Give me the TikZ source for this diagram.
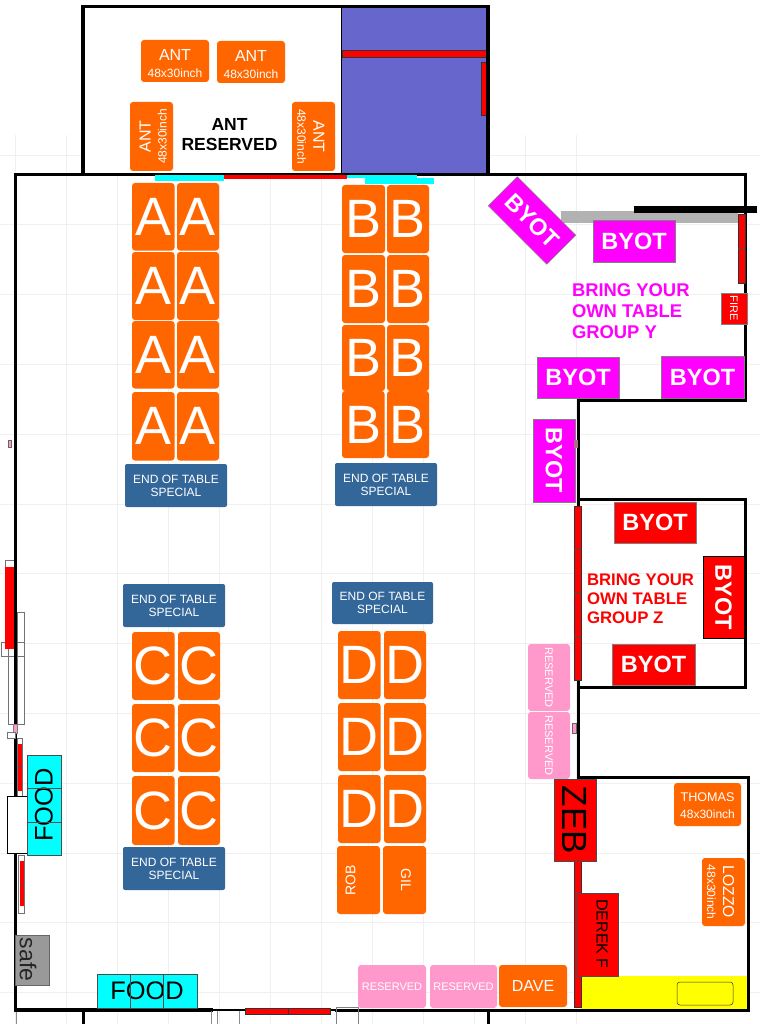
\documentclass[tikz,border=0pt]{standalone}
\usepackage{fontspec}
\setmainfont{Liberation Sans}
\definecolor{tblorange}{HTML}{FF6600}
\definecolor{tblblue}{HTML}{336699}
\definecolor{tblpink}{HTML}{FF99CC}
\definecolor{roomblue}{HTML}{6666CC}
\definecolor{gridgray}{HTML}{F0F0F0}
\definecolor{byotmag}{HTML}{FF00FF}
\definecolor{purecyan}{HTML}{00FFFF}
\definecolor{pureyellow}{HTML}{FFFF00}
\definecolor{purered}{HTML}{FF0000}
\newcommand\fz[2]{\fontsize{#1}{#2}\selectfont}
% horizontal box: style, name, x0,y0,x1,y1, text
\newcommand\hb[7]{\node[#1,minimum width=#5pt-#3pt,minimum height=#6pt-#4pt] (#2) at ({(#3+#5)/2},{-(#4+#6)/2}) {#7};}
% rotated box: style, name, x0,y0,x1,y1, angle, text
\newcommand\vb[8]{\node[#1,rotate=#7,minimum width=#6pt-#4pt,minimum height=#5pt-#3pt] (#2) at ({(#3+#5)/2},{-(#4+#6)/2}) {#8};}
\tikzset{
  x=1pt,y=1pt,
  box/.style={inner sep=0pt,outer sep=0pt,align=center,font=\fz{12}{13}},
  tbl/.style={box,fill=tblorange,rounded corners=3pt,text=white},
  big/.style={tbl,font=\fz{54}{54}},
  endtbl/.style={box,fill=tblblue,rounded corners=2pt,text=white,font=\fz{12}{13}},
  pinktbl/.style={box,fill=tblpink,rounded corners=3pt,text=white,font=\fz{11}{12}},
  byotm/.style={box,fill=byotmag,draw=gray,line width=.6pt,text=white,font=\bfseries\fz{23.5}{24}},
  byotr/.style={box,fill=purered,draw=gray,line width=.6pt,text=white,font=\bfseries\fz{23.5}{24}},
  redbar/.style={fill=purered,draw=black!80,line width=.5pt},
  cyanbox/.style={box,fill=purecyan,draw=black!70,line width=.5pt},
  wall/.style={draw=black,line width=3pt,line cap=rect,line join=miter},
  outline/.style={fill=white,draw=black!55,line width=.6pt},
}
\newcommand\inch{\fz{12}{17}48x30inch}
\begin{document}
\begin{tikzpicture}
\useasboundingbox (0,0) rectangle (760,-1024);
\fill[white] (0,0) rectangle (760,-1024);
% grid
\foreach \k in {0,...,11} \draw[gridgray,line width=.7pt] ({15.6+51*\k},-135) -- ({15.6+51*\k},-1024);
\foreach \k in {0,...,12} \draw[gridgray,line width=.7pt] (0,{-155-69.8*\k}) -- (760,{-155-69.8*\k});
% upper room
\fill[white] (83,-6) rectangle (488,-174);
\fill[roomblue] (342,-8) rectangle (487,-174);
\draw[redbar] (342,-50) rectangle (488,-57);
\draw[redbar] (481,-62) rectangle (488,-115);
\draw[wall,line width=3.5pt] (83,-174) -- (83,-6.5) -- (488,-6.5) -- (488,-174);
\draw[black,line width=.6pt] (341.5,-8) -- (341.5,-174);
% main walls
\draw[wall] (15.5,-1010) -- (15.5,-174.5) -- (745,-174.5) -- (745,-400) -- (578,-400) -- (578,-777) -- (748,-777) -- (748,-1010) -- (336,-1010);
\draw[wall] (578,-499) -- (745,-499) -- (745,-687) -- (578,-687);
\draw[wall,line width=3.5pt] (15.5,-1010) -- (211,-1010);
\draw[black,line width=2pt] (211,-1010) -- (336,-1010);
\draw[wall,line cap=butt] (83,-1010) -- (83,-1024);
\draw[wall,line cap=butt] (488,-1010) -- (488,-1024);
\draw[black!45,line width=.6pt] (16,-1012) -- (16,-1024) (211,-1011) -- (211,-1024) (217,-1011) -- (217,-1024) (239,-1011) -- (239,-1024);
\draw[black!50,line width=.6pt] (336,-1024) -- (336,-1007) -- (358,-1007) -- (358,-1024);
% doors on top wall
\fill[purecyan] (155,-175) rectangle (224,-181);
\fill[purered] (224,-175) rectangle (347,-179);
\fill[purecyan] (347,-175) rectangle (417,-178);
\fill[purecyan] (365,-178) rectangle (434,-184);
% ANT tables
\hb{tbl}{ant1}{141}{40}{209}{82}{\fz{16}{17}\rule{0pt}{15.5pt}ANT\\[4pt]\inch}
\hb{tbl}{ant2}{217}{41}{285}{83}{\fz{16}{17}\rule{0pt}{15.5pt}ANT\\[4pt]\inch}
\vb{tbl}{ant3}{130}{102}{173}{171}{90}{\fz{16}{17}\rule{0pt}{14.5pt}ANT\\[3pt]\inch}
\vb{tbl}{ant4}{292}{102}{335}{171}{-90}{\fz{16}{17}\rule{0pt}{16.5pt}ANT\\[3pt]\inch}
\node[box,font=\bfseries\fz{17.5}{20}] (antres) at (229.5,-135) {ANT\\RESERVED};
% A
\hb{big}{a1}{132}{183}{174.5}{250.5}{A}\hb{big}{a2}{177}{183}{219}{250.5}{A}
\hb{big}{a3}{132}{252}{174.5}{320}{A}\hb{big}{a4}{177}{252}{219}{320}{A}
\hb{big}{a5}{132}{321}{174.5}{388.5}{A}\hb{big}{a6}{177}{321}{219}{388.5}{A}
\hb{big}{a7}{132}{392}{174.5}{460.5}{A}\hb{big}{a8}{177}{392}{219}{460.5}{A}
% B
\hb{big}{b1}{342}{185}{385}{253}{B}\hb{big}{b2}{387}{185}{429}{253}{B}
\hb{big}{b3}{342}{255}{385}{323}{B}\hb{big}{b4}{387}{255}{429}{323}{B}
\hb{big}{b5}{342}{325}{385}{391}{B}\hb{big}{b6}{387}{325}{429}{391}{B}
\hb{big}{b7}{342}{391}{384.5}{458}{B}\hb{big}{b8}{387}{391}{429}{458}{B}
% C
\hb{big}{c1}{132}{632}{174.5}{700}{C}\hb{big}{c2}{178}{632}{220}{700}{C}
\hb{big}{c3}{132}{704}{174.5}{772}{C}\hb{big}{c4}{178}{704}{220}{772}{C}
\hb{big}{c5}{132}{776}{174.5}{845}{C}\hb{big}{c6}{178}{776}{220}{845}{C}
% D
\hb{big}{d1}{338}{631}{380.5}{699}{D}\hb{big}{d2}{384}{631}{426}{699}{D}
\hb{big}{d3}{338}{703}{380.5}{771}{D}\hb{big}{d4}{384}{703}{426}{771}{D}
\hb{big}{d5}{338}{775}{380.5}{843}{D}\hb{big}{d6}{384}{775}{426}{843}{D}
\hb{tbl}{rob}{337}{846}{380}{914}{}
\node[box,rotate=90,text=white,font=\fz{14}{15}] (robt) at (350.5,-880) {ROB};
\hb{tbl}{gil}{383}{846}{426}{914}{}
\node[box,rotate=-90,text=white,font=\fz{14}{15}] (gilt) at (406,-880) {GIL};
% end of table
\hb{endtbl}{ea}{125}{464}{227}{507}{END OF TABLE\\SPECIAL}
\hb{endtbl}{eb}{335}{463}{437}{506}{END OF TABLE\\SPECIAL}
\hb{endtbl}{ec}{123}{584}{225}{627}{END OF TABLE\\SPECIAL}
\hb{endtbl}{ed}{332}{582}{433}{624}{END OF TABLE\\SPECIAL}
\hb{endtbl}{ef}{123}{847}{225}{890}{END OF TABLE\\SPECIAL}
% Group Y
\fill[black!30] (561,-211) rectangle (738,-223);
\fill[black] (634,-206) rectangle (757,-213);
\draw[redbar] (738,-214) rectangle (745,-283);
\draw[black!70,line width=.5pt] (738,-248) -- (745,-248);
\node[byotm,rotate=-45,minimum width=82.7pt,minimum height=41pt] (by1) at (532,-220.5) {BYOT};
\hb{byotm}{by2}{593}{220}{675}{262}{BYOT}
\hb{byotm}{by3}{537}{357}{619}{398}{BYOT}
\hb{byotm}{by4}{661}{356}{744}{398}{BYOT}
\vb{byotm}{by5}{533}{419}{575}{502}{-90}{BYOT}
\vb{box,fill=purered,draw=black!50,line width=.5pt,text=white,font=\fz{11}{12}}{fire}{721}{293}{747}{324}{-90}{FIRE}
\node[box,anchor=north west,align=left,text=byotmag,font=\bfseries\fz{18.4}{21}] (groupy) at (572,-283.5) {BRING YOUR\\OWN TABLE\\GROUP Y};
% Group Z
\draw[redbar] (574,-506) rectangle (581,-680);
\draw[black!70,line width=.5pt] (574,-549) -- (581,-549) (574,-593) -- (581,-593) (574,-636) -- (581,-636);
\hb{byotr}{bz1}{614}{502}{696}{543}{BYOT}
\vb{byotr,draw=black}{bz2}{703}{556}{744}{638}{-90}{BYOT}
\hb{byotr}{bz3}{612}{644}{695}{685}{BYOT}
\node[box,anchor=north west,align=left,text=purered,font=\bfseries\fz{16.75}{19}] (groupz) at (587,-574) {BRING YOUR\\OWN TABLE\\GROUP Z};
% marks
\fill[tblpink!70!black] (574,-440) rectangle (577.5,-448);
\draw[fill=tblpink,draw=black!60,line width=.4pt] (572.5,-723) rectangle (576.5,-733);
\draw[fill=tblpink,draw=black!60,line width=.4pt] (8,-440) rectangle (11,-447);
% pink reserved
\vb{pinktbl}{pk1}{528}{644}{570}{711}{-90}{RESERVED}
\vb{pinktbl}{pk2}{528}{712}{570}{779}{-90}{RESERVED}
\hb{pinktbl}{pk3}{358}{965}{426}{1008}{RESERVED}
\hb{pinktbl}{pk4}{430}{965}{497}{1008}{RESERVED}
\hb{tbl,font=\fz{16}{17}}{dave}{499}{965}{567}{1007}{DAVE}
% SE room
\fill[pureyellow] (581,-976) rectangle (746.5,-1008.5);
\draw[black!80,line width=.5pt,rounded corners=3pt] (677,-982) rectangle (733,-1005);
\draw[redbar] (574,-861) rectangle (581,-1007);
\vb{box,fill=purered,draw=black!70,line width=.5pt,text=black,font=\fz{35}{36}}{zeb}{554}{779}{596}{861}{-90}{ZEB}
\hb{box,fill=purered,draw=black!70,line width=.5pt}{derek}{576}{893}{618}{976}{}
\node[box,rotate=-90,text=black,font=\fz{16}{17}] (derekt) at (602,-934) {DEREK F};
\hb{tbl}{thomas}{674}{783}{741}{826}{\fz{12.6}{17}\rule{0pt}{11pt}THOMAS\\[4pt]\inch}
\vb{tbl}{lozzo}{702}{858}{745}{926}{-90}{\fz{15.7}{17}\rule{0pt}{17pt}LOZZO\\[3pt]\inch}
% left wall fixtures
\draw[outline] (17,-612) rectangle (24,-724);
\draw[outline] (8,-642) rectangle (17,-724);
\draw[outline,fill=none] (1.5,-642) rectangle (24,-656);
\draw[outline] (5,-560) rectangle (15.5,-567);
\fill[purered] (5,-567) rectangle (15.5,-649);
\draw[black,line width=3pt] (15.5,-540) -- (15.5,-732);
\draw[fill=tblpink,draw=black!50,line width=.4pt] (13.5,-724) rectangle (17,-733);
\draw[outline] (7,-732) rectangle (15,-738);
\draw[outline] (17,-738) rectangle (22.5,-797);
\fill[purered] (17.5,-744) rectangle (22,-791);
\draw[black!70,line width=.4pt] (17.5,-767) -- (22,-767);
\draw[fill=white,draw=black,line width=.5pt] (7,-796) rectangle (27,-853);
\draw[outline] (18,-855) rectangle (24.5,-913);
\fill[purered] (19.5,-861) rectangle (24,-906);
\draw[black!70,line width=.4pt] (19.5,-885) -- (24,-885);
% food
\vb{cyanbox,font=\fz{25.4}{26}}{food1}{27}{755}{61}{855}{90}{FOOD}
\draw[black!70,line width=.5pt] (27,-788) -- (61,-788) (27,-822) -- (61,-822);
\hb{cyanbox,font=\fz{25.4}{26}}{food2}{97}{974}{197}{1008}{FOOD}
\draw[black!70,line width=.5pt] (130,-974) -- (130,-1008) (163,-974) -- (163,-1008);
\hb{box,fill=black!40,draw=black!60,line width=.5pt}{safe}{15}{935}{49}{985}{}
\node[box,rotate=-90,text=black!85,font=\fz{23}{24}] (safet) at (28,-959.5) {safe};
% bottom door
\draw[redbar] (245,-1008) rectangle (330,-1014);
\draw[black!80,line width=.5pt] (288,-1008) -- (288,-1014);
\end{tikzpicture}
\end{document}
